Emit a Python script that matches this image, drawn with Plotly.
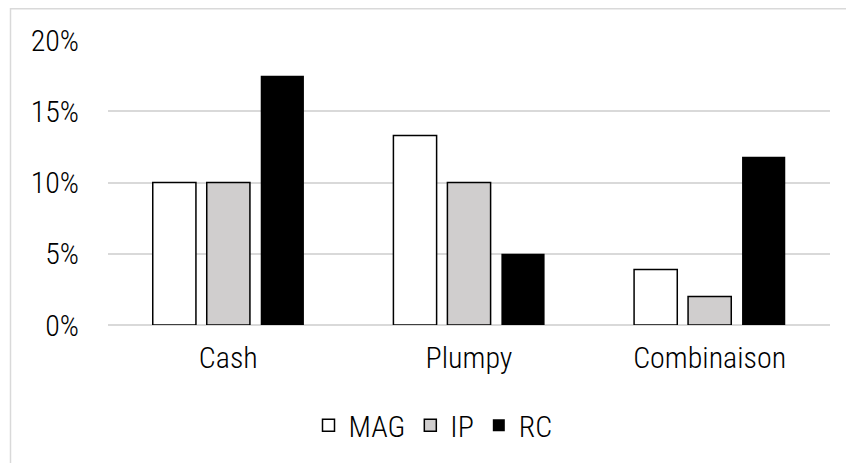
import plotly.graph_objects as go

# Categories and series (percentages)
categories = ["Cash", "Plumpy", "Combinaison"]
series_names = ["MAG", "IP", "RC"]
mag_values = [10.0, 13.3, 3.9]
ip_values = [10.0, 10.0, 2.0]
rc_values = [17.5, 5.0, 11.8]
y_ticks = [0, 5, 10, 15, 20]
y_tick_labels = ["0%", "5%", "10%", "15%", "20%"]

FONT = "Roboto Condensed, Archivo Narrow, Liberation Sans, Arial, sans-serif"
FONT_SIZE = 30
FONT_WEIGHT = 350
W, H = 846, 463
ML, MR, MT, MB = 108, 16, 40, 136
PW, PH = W - ML - MR, H - MT - MB


def px_to_paper_x(px):
    return (px - ML) / PW


def px_to_paper_y(py):
    return (H - MB - py) / PH


text_font = dict(family=FONT, size=FONT_SIZE, color="#000000", weight=FONT_WEIGHT)

styles = {
    "MAG": dict(color="#ffffff", line=dict(color="#000000", width=1.5)),
    "IP": dict(color="#d0cece", line=dict(color="#000000", width=1.5)),
    "RC": dict(color="#000000", line=dict(color="#000000", width=0)),
}

fig = go.Figure()
for name, vals in zip(series_names, [mag_values, ip_values, rc_values]):
    fig.add_trace(go.Bar(x=categories, y=vals, name=name, marker=styles[name]))

fig.update_layout(
    width=W,
    height=H,
    margin=dict(l=ML, r=MR, t=MT, b=MB, pad=0),
    paper_bgcolor="#ffffff",
    plot_bgcolor="#ffffff",
    barmode="group",
    bargap=0.327,
    bargroupgap=0.2,
    font=text_font,
    showlegend=True,
    legend=dict(
        orientation="h",
        x=px_to_paper_x(433),
        xanchor="center",
        y=px_to_paper_y(428),
        yanchor="middle",
        font=text_font,
        itemwidth=30,
        tracegroupgap=0,
    ),
    xaxis=dict(
        type="category",
        showgrid=False,
        showline=False,
        ticks="",
        ticklabelstandoff=12,
        tickfont=text_font,
    ),
    yaxis=dict(
        range=[0, 20],
        tickvals=y_ticks,
        ticktext=y_tick_labels,
        showgrid=True,
        gridcolor="#d9d9d9",
        gridwidth=1.5,
        zeroline=True,
        zerolinecolor="#d9d9d9",
        zerolinewidth=1.5,
        showline=False,
        ticks="",
        ticklabelstandoff=28,
        tickfont=text_font,
    ),
    shapes=[
        dict(
            type="rect",
            xref="paper",
            yref="paper",
            x0=px_to_paper_x(10.5),
            x1=px_to_paper_x(880),
            y0=px_to_paper_y(480),
            y1=px_to_paper_y(8.5),
            line=dict(color="#d9d9d9", width=1.5),
            fillcolor="rgba(0,0,0,0)",
            layer="below",
        )
    ],
)

fig.write_html("out.html")
